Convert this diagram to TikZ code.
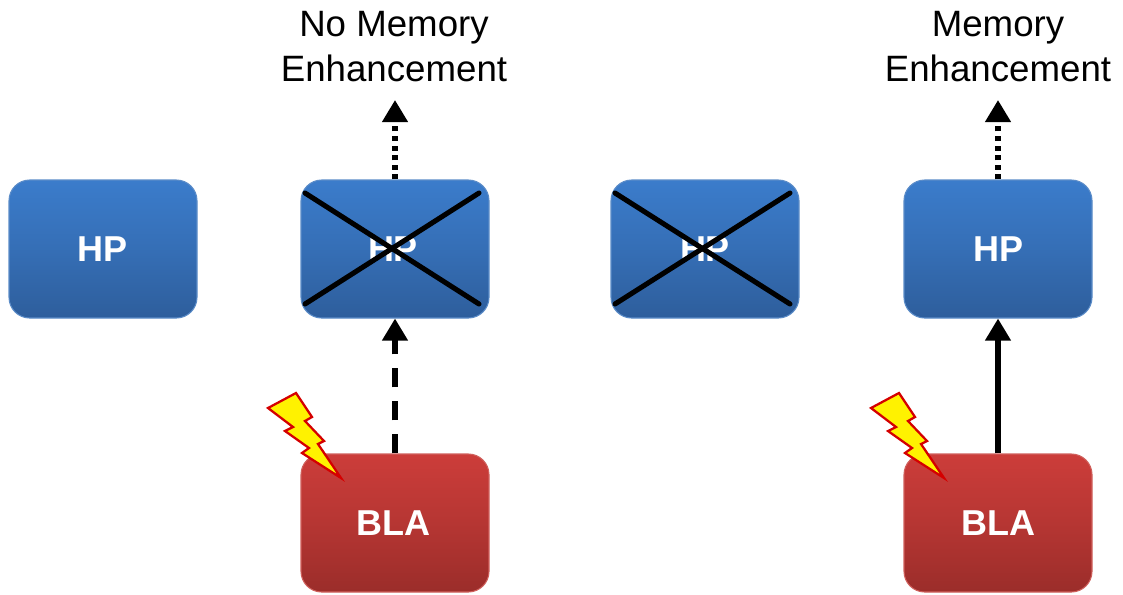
\documentclass[tikz,border=0pt]{standalone}
\usepackage{fontspec}
\setmainfont{Liberation Sans}
\usetikzlibrary{arrows.meta}
\definecolor{bluetop}{HTML}{3B7CCB}
\definecolor{bluebot}{HTML}{2E5E9C}
\definecolor{blueline}{HTML}{5B8CC8}
\definecolor{redtop}{HTML}{CC3D3A}
\definecolor{redbot}{HTML}{9B2D2A}
\definecolor{redline}{HTML}{D0605C}
\definecolor{boltline}{HTML}{D40000}
\tikzset{
  box/.style={minimum width=141pt,minimum height=103.5pt,inner sep=0pt,rounded corners=15.5pt,
    line width=0.8pt,text=white,font=\fontsize{27}{32}\selectfont\bfseries},
  hpbox/.style={box,draw=blueline,top color=bluetop,bottom color=bluebot,middle color=bluetop!55!bluebot},
  blabox/.style={box,draw=redline,top color=redtop,bottom color=redbot,middle color=redtop!55!redbot},
  heading/.style={align=center,inner sep=0pt,font=\fontsize{27.5}{33.75}\selectfont},
  link/.style={line width=3.9pt,-{Triangle[length=16.5pt,width=18.5pt]}},
  solidlink/.style={link},
  dashlink/.style={link,dash pattern=on 14.5pt off 10.25pt},
  dotlink/.style={link,dash pattern=on 3.8pt off 3.4pt},
  crossline/.style={line width=3.8pt,line cap=round},
  bolt/.style={draw=boltline,fill=yellow,line width=1.7pt,line join=miter}
}
\begin{document}
\begin{tikzpicture}[x=0.75pt,y=-0.75pt]
\useasboundingbox (0,0) rectangle (1123,594);
\node[hpbox] (hpa) at (103,249) {HP};
\node[hpbox] (hpb) at (395,249) {\kern-3pt HP};
\node[hpbox] (hpc) at (705,249) {HP};
\node[hpbox] (hpd) at (998,249) {HP};
\node[blabox] (blab) at (395,523) {\kern-3pt BLA};
\node[blabox] (blad) at (998,523) {BLA};
\node[heading] (noenh) at (394,47) {No Memory\\Enhancement};
\node[heading] (enh) at (998,47) {Memory\\Enhancement};
\coordinate (tipb) at (395,100);
\coordinate (tipd) at (998,100);
\draw[dotlink] (hpb.north) -- (tipb);
\draw[dotlink] (hpd.north) -- (tipd);
\draw[dashlink] (blab.north) -- (hpb.south);
\draw[solidlink] (blad.north) -- (hpd.south);
\coordinate (b1) at (305,193); \coordinate (b2) at (479,193);
\coordinate (b3) at (305,304); \coordinate (b4) at (479,304);
\coordinate (c1) at (615,193); \coordinate (c2) at (790,193);
\coordinate (c3) at (615,304); \coordinate (c4) at (790,304);
\draw[crossline] (b1) -- (b4);
\draw[crossline] (b2) -- (b3);
\draw[crossline] (c1) -- (c4);
\draw[crossline] (c2) -- (c3);
\draw[bolt] (268,408) -- (296,393) -- (312,417) -- (305,421) -- (324,441) -- (318,444) -- (341,478) -- (302,453) -- (309,448) -- (285,431) -- (293,427) -- cycle;
\draw[bolt] (871,408) -- (899,393) -- (915,417) -- (908,421) -- (927,441) -- (921,444) -- (944,478) -- (905,453) -- (912,448) -- (888,431) -- (896,427) -- cycle;
\end{tikzpicture}
\end{document}
